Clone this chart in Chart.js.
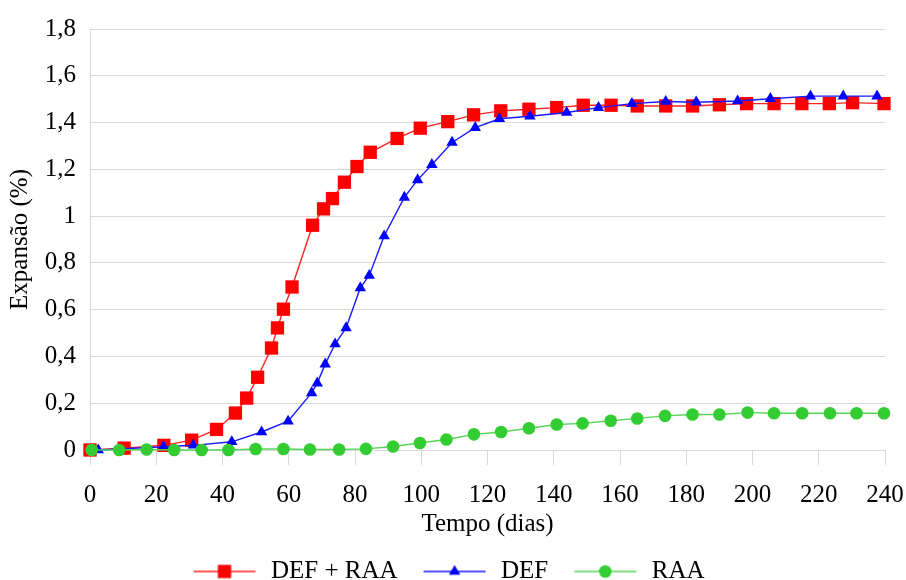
<!DOCTYPE html>
<html><head><meta charset="utf-8">
<script src="https://cdn.jsdelivr.net/npm/chart.js@4.4.1/dist/chart.umd.min.js"></script>
<style>html,body{margin:0;padding:0;background:#fff}#wrap{width:906px;height:580px;position:relative}</style>
</head><body><div id="wrap"><canvas id="c" width="906" height="580"></canvas></div>
<script>
// ---- data ----
const seriesNames = ['DEF + RAA', 'DEF', 'RAA'];

const defRaaDays   = [0, 10.3, 22.3, 30.7, 38.2, 43.9, 47.3, 50.6, 54.8, 56.6, 58.4, 61.0, 67.2, 70.5, 73.2, 76.8, 80.6, 84.6, 92.7, 99.7, 108.0, 115.8, 124.0, 132.5, 140.9, 148.9, 157.3, 165.2, 173.8, 181.9, 190.0, 198.2, 206.5, 214.9, 223.2, 230.2, 239.7];
const defRaaValues = [0, 0.008, 0.02, 0.042, 0.088, 0.158, 0.222, 0.311, 0.436, 0.522, 0.602, 0.697, 0.961, 1.031, 1.075, 1.145, 1.212, 1.273, 1.332, 1.376, 1.404, 1.433, 1.450, 1.457, 1.464, 1.474, 1.474, 1.471, 1.471, 1.471, 1.476, 1.481, 1.481, 1.481, 1.481, 1.485, 1.481];

const defDays   = [2.5, 22.2, 31.2, 42.8, 51.8, 59.8, 66.9, 68.6, 71.0, 74.0, 77.3, 81.6, 84.3, 88.8, 94.9, 98.9, 103.2, 109.3, 116.3, 123.6, 132.8, 143.9, 153.5, 163.6, 173.8, 183.0, 195.5, 205.4, 217.5, 227.4, 237.6];
const defValues = [0, 0.014, 0.02, 0.035, 0.077, 0.123, 0.244, 0.286, 0.367, 0.453, 0.522, 0.693, 0.746, 0.915, 1.08, 1.155, 1.22, 1.315, 1.378, 1.416, 1.427, 1.443, 1.464, 1.481, 1.490, 1.487, 1.492, 1.502, 1.513, 1.513, 1.513];

const raaDays   = [0.5, 8.8, 17.1, 25.4, 33.7, 41.8, 50, 58.4, 66.4, 75.2, 83.3, 91.5, 99.6, 107.6, 115.9, 124.1, 132.5, 140.9, 148.7, 157.2, 165.2, 173.6, 181.9, 190, 198.5, 206.5, 215, 223.4, 231.4, 239.7];
const raaValues = [0, 0, 0.002, 0, 0, 0, 0.004, 0.004, 0.002, 0.002, 0.005, 0.015, 0.03, 0.045, 0.067, 0.077, 0.093, 0.109, 0.114, 0.125, 0.135, 0.146, 0.152, 0.152, 0.16, 0.157, 0.157, 0.157, 0.157, 0.157];

const xTickMin = 0, xTickMax = 240, xTickStep = 20;
const yTickMin = 0, yTickMax = 1.8, yTickStep = 0.2;
const xTitle = 'Tempo (dias)';
const yTitle = 'Expansão (%)';

// ---- styling ----
const FONT = "'Liberation Serif', 'Times New Roman', serif";
const FS = 25;
const GRID = '#d9d9d9';
const styles = [
  {line: '#ff2020', fill: '#ff0000', point: 'rect', radius: 9.4},
  {line: '#1a1aff', fill: '#0000ff', point: 'triangle', radius: 6.6},
  {line: '#55d455', fill: '#33cc33', point: 'circle', radius: 6.3}
];

function toXY(xs, ys) { return xs.map((x, i) => ({x, y: ys[i]})); }

const LEAD = 26, LINE_W = 62, TAIL = 3, SYM_H = 22;
function legendSymbol(st) {
  const c = document.createElement('canvas');
  c.width = LEAD + LINE_W + TAIL; c.height = SYM_H;
  const ctx = c.getContext('2d');
  ctx.strokeStyle = st.line; ctx.lineWidth = 1.5;
  ctx.beginPath(); ctx.moveTo(LEAD, SYM_H / 2); ctx.lineTo(LEAD + LINE_W, SYM_H / 2); ctx.stroke();
  ctx.fillStyle = st.fill; ctx.strokeStyle = st.fill;
  Chart.helpers.drawPoint(ctx, {pointStyle: st.point, radius: st.radius, borderWidth: 0, rotation: 0}, LEAD + LINE_W / 2, SYM_H / 2);
  return c;
}

const allData = [toXY(defRaaDays, defRaaValues), toXY(defDays, defValues), toXY(raaDays, raaValues)];
const orders = [3, 2, 1];

const datasets = allData.map((d, i) => ({
  label: seriesNames[i],
  data: d,
  borderColor: styles[i].line,
  backgroundColor: styles[i].fill,
  pointBackgroundColor: styles[i].fill,
  pointBorderColor: styles[i].fill,
  pointBorderWidth: 0,
  pointStyle: styles[i].point,
  pointRadius: styles[i].radius,
  pointHoverRadius: styles[i].radius,
  borderWidth: 1.4,
  tension: 0,
  fill: false,
  clip: false,
  order: orders[i]
}));

const legendShift = {
  id: 'legendShift',
  afterLayout(chart) {
    const l = chart.legend; const s = -12;
    l.left += s; l.right += s;
  }
};

Chart.defaults.font.family = FONT;
Chart.defaults.color = '#000';

new Chart(document.getElementById('c'), {
  type: 'line',
  data: {datasets},
  plugins: [legendShift],
  options: {
    responsive: false,
    animation: false,
    devicePixelRatio: 1,
    layout: {padding: {left: 0, right: 10, top: 20, bottom: -14}},
    plugins: {
      tooltip: {enabled: false},
      legend: {
        position: 'bottom',
        align: 'center',
        labels: {
          usePointStyle: true,
          pointStyleWidth: LEAD + LINE_W + TAIL,
          padding: 0,
          font: {size: FS, family: FONT},
          color: '#000',
          generateLabels(chart) {
            return chart.data.datasets.map((ds, i) => ({
              text: ds.label,
              pointStyle: legendSymbol(styles[i]),
              fillStyle: styles[i].fill,
              strokeStyle: styles[i].fill,
              lineWidth: 0,
              hidden: false,
              datasetIndex: i,
              fontColor: '#000'
            }));
          }
        }
      }
    },
    scales: {
      x: {
        type: 'linear',
        min: xTickMin, max: xTickMax,
        afterFit(scale) { scale.height = 109; scale.paddingRight = 21; scale.paddingLeft = 0; },
        ticks: {stepSize: xTickStep, font: {size: FS, family: FONT}, color: '#000', padding: 15, maxRotation: 0},
        grid: {drawOnChartArea: false, drawTicks: true, tickLength: 15, color: GRID, lineWidth: 1},
        border: {display: true, color: GRID, width: 1},
        title: {display: true, text: xTitle, font: {size: FS, family: FONT}, color: '#000', padding: {top: 0, bottom: 20}}
      },
      y: {
        type: 'linear',
        min: yTickMin, max: yTickMax,
        afterFit(scale) { scale.width = 90; },
        ticks: {
          stepSize: yTickStep, font: {size: FS, family: FONT}, color: '#000', padding: 14,
          callback: (v) => String(Number(v.toFixed(1))).replace('.', ',')
        },
        grid: {drawTicks: false, color: GRID, lineWidth: 1},
        border: {display: true, color: GRID, width: 1},
        title: {display: true, text: yTitle, font: {size: FS, family: FONT}, color: '#000', padding: {top: 5, bottom: 0}}
      }
    }
  }
});
</script>
</body></html>
